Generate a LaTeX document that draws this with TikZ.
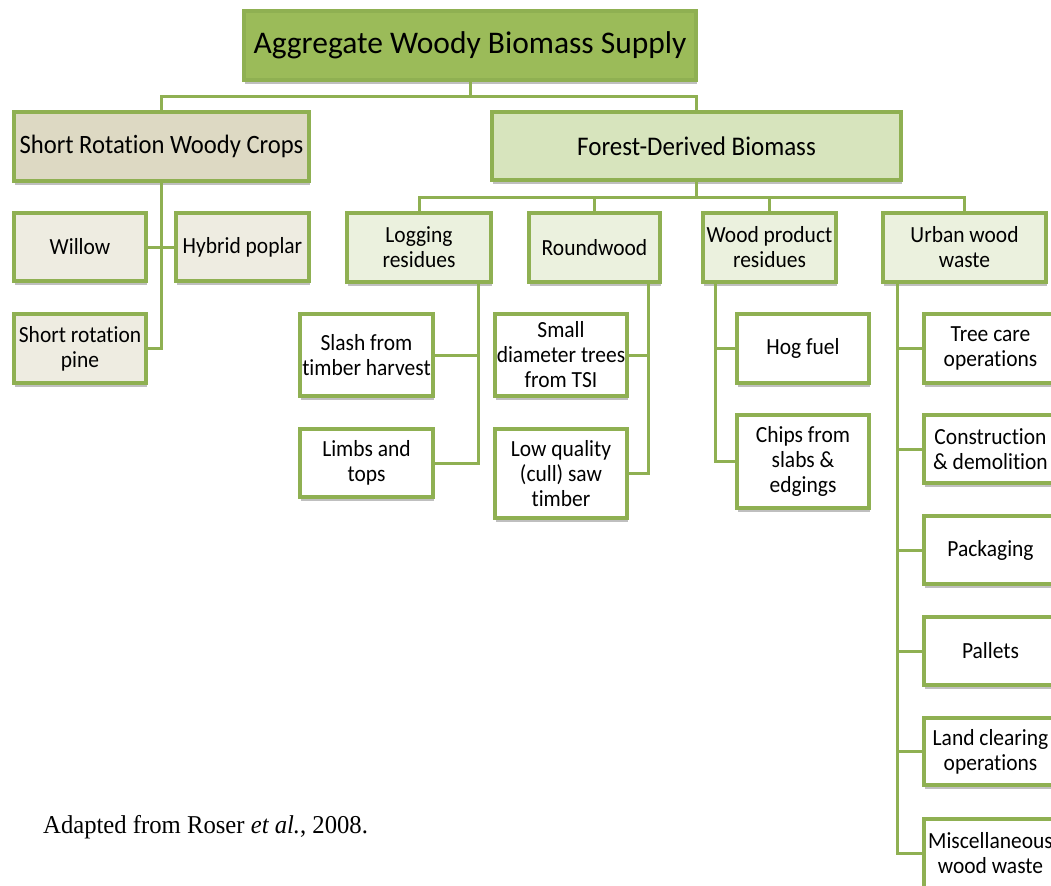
\documentclass[tikz,border=0pt]{standalone}
\usepackage{fontspec}
\setmainfont{Carlito}[FakeStretch=0.93, Ligatures=NoCommon]
\newfontfamily\titlefont{Carlito}[Ligatures=NoCommon]
\newfontfamily\capfont{Liberation Serif}[FakeStretch=0.96]
\usetikzlibrary{shadows}
\definecolor{bgreen}{HTML}{8FB052}
\definecolor{topfill}{HTML}{9BBB59}
\definecolor{forestfill}{HTML}{D7E4BD}
\definecolor{lvfill}{HTML}{EBF1DE}
\definecolor{srwcfill}{HTML}{DDD9C3}
\definecolor{srleaf}{HTML}{EEECE1}
\begin{document}
\begin{tikzpicture}[x=1bp,y=-1bp,
  box/.style={draw=bgreen, line width=4bp, inner sep=0pt, align=center,
    drop shadow={shadow xshift=1bp, shadow yshift=-3.5bp, fill=black, opacity=0.25},
    font=\fontsize{23.1bp}{25bp}\selectfont},
  leafbox/.style={box, fill=white},
  lvbox/.style={box, fill=lvfill},
  srbox/.style={box, fill=srleaf},
  conn/.style={draw=bgreen, line width=3bp}]
\useasboundingbox (0,0) rectangle (1051,886);

% top
\node[box, fill=topfill, minimum width=452bp, minimum height=69bp,
  font=\titlefont\fontsize{31.5bp}{36bp}\selectfont] (agg) at (470,45.5) {Aggregate Woody Biomass Supply};
\node[box, fill=srwcfill, minimum width=295bp, minimum height=69bp,
  font=\fontsize{26.5bp}{29bp}\selectfont] (srwc) at (161.5,146.5) {Short Rotation Woody Crops};
\node[box, fill=forestfill, minimum width=409bp, minimum height=68bp,
  font=\fontsize{26.9bp}{29bp}\selectfont] (forest) at (696.5,146) {Forest-Derived Biomass};

% SRWC leaves
\node[srbox, minimum width=132bp, minimum height=68bp] (willow) at (80,247) {Willow};
\node[srbox, minimum width=133bp, minimum height=68bp] (hybrid) at (242.5,247) {Hybrid poplar};
\node[srbox, minimum width=132bp, minimum height=69bp] (pine) at (80,348.5) {Short rotation\\pine};

% level 2
\node[lvbox, minimum width=144bp, minimum height=69bp] (logging) at (419,247.5) {Logging\\residues};
\node[lvbox, minimum width=131bp, minimum height=69bp] (roundwood) at (594.5,247.5) {Roundwood};
\node[lvbox, minimum width=133bp, minimum height=69bp] (wpr) at (769.5,247.5) {Wood product\\residues};
\node[lvbox, minimum width=163bp, minimum height=69bp] (urban) at (964.5,247.5) {Urban wood\\waste};

% leaves
\node[leafbox, minimum width=133bp, minimum height=82bp] (slash) at (366.5,355) {Slash from\\timber harvest};
\node[leafbox, minimum width=133bp, minimum height=68bp] (limbs) at (366.5,463) {Limbs and\\tops};
\node[leafbox, minimum width=132bp, minimum height=82bp] (small) at (561,355) {Small\\diameter trees\\from TSI};
\node[leafbox, minimum width=132bp, minimum height=89bp] (lowq) at (561,473.5) {Low quality\\(cull) saw\\timber};
\node[leafbox, minimum width=132bp, minimum height=69bp] (hog) at (803,348.5) {Hog fuel};
\node[leafbox, minimum width=132bp, minimum height=93bp] (chips) at (803,461.5) {Chips from\\slabs \&\\edgings};

\node[leafbox, minimum width=133bp, minimum height=69bp] (treecare) at (990.5,348.5) {Tree care\\operations};
\node[leafbox, minimum width=133bp, minimum height=68bp] (constr) at (990.5,449) {Construction\\\& demolition};
\node[leafbox, minimum width=133bp, minimum height=68bp] (packaging) at (990.5,550) {Packaging};
\node[leafbox, minimum width=133bp, minimum height=68bp] (pallets) at (990.5,651) {Pallets};
\node[leafbox, minimum width=133bp, minimum height=67bp] (landclear) at (990.5,751.5) {Land clearing\\operations};
\node[leafbox, minimum width=133bp, minimum height=69bp] (misc) at (990.5,853.5) {Miscellaneous\\wood waste};

% caption
\node[anchor=base west, inner sep=0pt, font=\capfont\fontsize{25.7bp}{28bp}\selectfont] (cap) at (43,833) {Adapted from Roser \textit{et al.}, 2008.};

% connectors
\coordinate (j0) at (470,96);
\draw[conn] (agg.south) -- (j0);
\draw[conn] (srwc.north) |- (j0) -| (forest.north);

\coordinate (j1) at (696.5,197);
\draw[conn] (forest.south) -- (j1);
\draw[conn] (logging.north) |- (j1) -| (urban.north);
\draw[conn] (roundwood.north) -- (roundwood.north |- j1);
\draw[conn] (wpr.north) -- (wpr.north |- j1);

\draw[conn] (srwc.south) |- (pine.east);
\draw[conn] (willow.east) -- (hybrid.west);

\coordinate (lx) at (478,0);
\draw[conn] (logging.south -| lx) |- (limbs.east);
\draw[conn] (slash.east) -- (slash.east -| lx);

\coordinate (rx) at (648,0);
\draw[conn] (roundwood.south -| rx) |- (lowq.east);
\draw[conn] (small.east) -- (small.east -| rx);

\coordinate (wx) at (715.6,0);
\draw[conn] (wpr.south -| wx) |- (chips.west);
\draw[conn] (hog.west) -- (hog.west -| wx);

\coordinate (ux) at (897.7,0);
\draw[conn] (urban.south -| ux) |- (misc.west);
\draw[conn] (treecare.west) -- (treecare.west -| ux);
\draw[conn] (constr.west) -- (constr.west -| ux);
\draw[conn] (packaging.west) -- (packaging.west -| ux);
\draw[conn] (pallets.west) -- (pallets.west -| ux);
\draw[conn] (landclear.west) -- (landclear.west -| ux);
\end{tikzpicture}
\end{document}
